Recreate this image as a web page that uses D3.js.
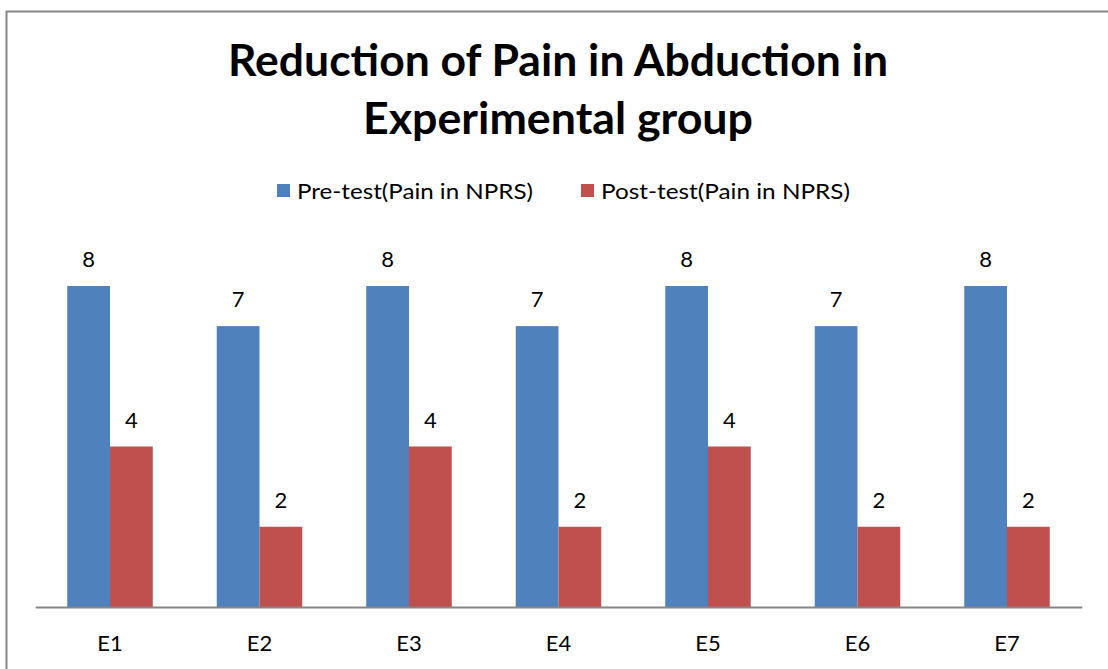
<!DOCTYPE html>
<html>
<head>
<meta charset="utf-8">
<script src="https://cdn.jsdelivr.net/npm/d3@7"></script>
<style>
  html, body { margin: 0; padding: 0; background: #fff; }
  svg { display: block; font-family: Lato, "Open Sans", "Liberation Sans", sans-serif; }
</style>
</head>
<body>
<svg id="chart" width="1108" height="669"></svg>
<script>
const categories = ["E1", "E2", "E3", "E4", "E5", "E6", "E7"];
const seriesNames = ["Pre-test(Pain in NPRS)", "Post-test(Pain in NPRS)"];
const preTest = [8, 7, 8, 7, 8, 7, 8];
const postTest = [4, 2, 4, 2, 4, 2, 2];
const colors = ["#4F81BD", "#C0504D"];
const titleLines = ["Reduction of Pain in Abduction in", "Experimental group"];

const series = [preTest, postTest];
const svg = d3.select("#chart");

// outer chart border (extends beyond the window on the right and bottom)
svg.append("rect")
  .attr("x", 6.5).attr("y", 11.5)
  .attr("width", 1200).attr("height", 800)
  .attr("fill", "#fff")
  .attr("stroke", "#878787").attr("stroke-width", 2);

const x0 = d3.scaleBand().domain(categories).range([35.25, 1081.75]).paddingInner(0).paddingOuter(0);
const barW = 42.75;
const y = d3.scaleLinear().domain([0, 8]).range([607, 286]);

// Title
const titleWidths = [660, 390];
const titleBase = [76, 134];
titleLines.forEach((t, i) => {
  svg.append("text")
    .attr("x", 558).attr("y", titleBase[i])
    .attr("text-anchor", "middle")
    .attr("font-size", 43).attr("font-weight", "bold")
    .attr("fill", "#000")
    .attr("textLength", titleWidths[i]).attr("lengthAdjust", "spacingAndGlyphs")
    .text(t);
});

// Legend
const legendItems = [
  { sx: 277, tx: 297, tw: 236 },
  { sx: 581, tx: 601, tw: 249 }
];
legendItems.forEach((l, i) => {
  svg.append("rect").attr("x", l.sx).attr("y", 184).attr("width", 13).attr("height", 13).attr("fill", colors[i]);
  svg.append("text").attr("x", l.tx).attr("y", 199)
    .attr("font-size", 22).attr("fill", "#000")
    .attr("textLength", l.tw).attr("lengthAdjust", "spacingAndGlyphs")
    .text(seriesNames[i]);
});

// Bars
const groups = svg.append("g").selectAll("g").data(categories).join("g")
  .attr("transform", d => `translate(${x0(d) + x0.bandwidth() / 2 - barW},0)`);

series.forEach((vals, s) => {
  groups.append("rect")
    .attr("x", s * barW)
    .attr("y", (d, i) => y(vals[i]))
    .attr("width", barW)
    .attr("height", (d, i) => y(0) - y(vals[i]))
    .attr("fill", colors[s]);
  groups.append("text")
    .attr("x", s * barW + barW / 2)
    .attr("y", (d, i) => y(vals[i]) - 19)
    .attr("text-anchor", "middle")
    .attr("font-size", 22).attr("fill", "#000")
    .text((d, i) => vals[i]);
});

// X axis
const axis = svg.append("g").attr("transform", "translate(0,607)")
  .call(d3.axisBottom(x0).tickSize(0).tickPadding(0));
axis.select(".domain").attr("stroke", "#868686").attr("stroke-width", 2);
axis.selectAll("text")
  .attr("font-family", "Lato, 'Open Sans', sans-serif")
  .attr("font-size", 22).attr("fill", "#000")
  .attr("dy", null).attr("y", 44);
</script>
</body>
</html>
